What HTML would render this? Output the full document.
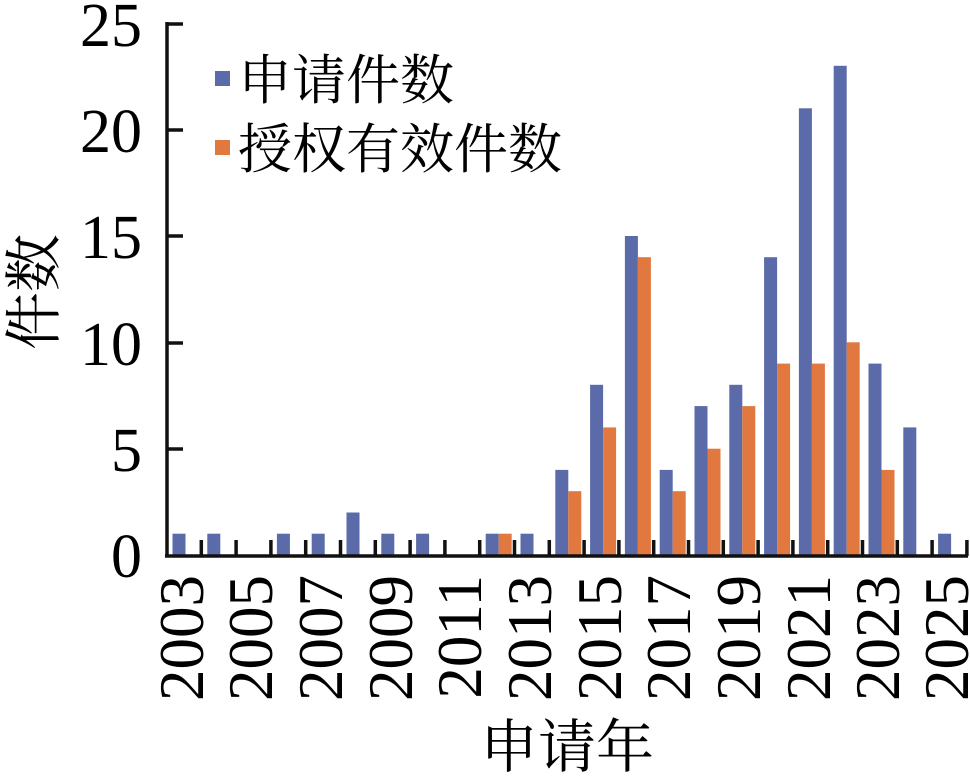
<!DOCTYPE html>
<html><head><meta charset="utf-8"><style>body{margin:0;background:#fff}svg{display:block}</style></head>
<body>
<svg width="970" height="777" xmlns="http://www.w3.org/2000/svg" font-family="'Liberation Serif','Noto Serif CJK SC',serif">
<g fill="#5b6aa8">
<rect x="172.5" y="533.7" width="13" height="21.3"/>
<rect x="207.3" y="533.7" width="13" height="21.3"/>
<rect x="276.9" y="533.7" width="13" height="21.3"/>
<rect x="311.7" y="533.7" width="13" height="21.3"/>
<rect x="346.5" y="512.5" width="13" height="42.5"/>
<rect x="381.3" y="533.7" width="13" height="21.3"/>
<rect x="416.1" y="533.7" width="13" height="21.3"/>
<rect x="485.7" y="533.7" width="13" height="21.3"/>
<rect x="520.5" y="533.7" width="13" height="21.3"/>
<rect x="555.3" y="469.9" width="13" height="85.1"/>
<rect x="590.1" y="384.8" width="13" height="170.2"/>
<rect x="624.9" y="236" width="13" height="319"/>
<rect x="659.7" y="469.9" width="13" height="85.1"/>
<rect x="694.5" y="406.1" width="13" height="148.9"/>
<rect x="729.3" y="384.8" width="13" height="170.2"/>
<rect x="764.1" y="257.2" width="13" height="297.8"/>
<rect x="798.9" y="108.3" width="13" height="446.7"/>
<rect x="833.7" y="65.8" width="13" height="489.2"/>
<rect x="868.5" y="363.6" width="13" height="191.4"/>
<rect x="903.3" y="427.4" width="13" height="127.6"/>
<rect x="938.1" y="533.7" width="13" height="21.3"/>
</g>
<g fill="#e07840">
<rect x="498.7" y="533.7" width="13" height="21.3"/>
<rect x="568.3" y="491.2" width="13" height="63.8"/>
<rect x="603.1" y="427.4" width="13" height="127.6"/>
<rect x="637.9" y="257.2" width="13" height="297.8"/>
<rect x="672.7" y="491.2" width="13" height="63.8"/>
<rect x="707.5" y="448.7" width="13" height="106.3"/>
<rect x="742.3" y="406.1" width="13" height="148.9"/>
<rect x="777.1" y="363.6" width="13" height="191.4"/>
<rect x="811.9" y="363.6" width="13" height="191.4"/>
<rect x="846.7" y="342.3" width="13" height="212.7"/>
<rect x="881.5" y="469.9" width="13" height="85.1"/>
</g>
<path d="M201.3 555V540M236.1 555V540M270.9 555V540M305.7 555V540M340.5 555V540M375.3 555V540M410.1 555V540M444.9 555V540M479.7 555V540M514.5 555V540M549.3 555V540M584.1 555V540M618.9 555V540M653.7 555V540M688.5 555V540M723.3 555V540M758.1 555V540M792.9 555V540M827.7 555V540M862.5 555V540M897.3 555V540M932.1 555V540M966.9 556V540M166 449H183M166 343H183M166 236H183M166 130H183M166 24H183" stroke="#111" stroke-width="3.5" fill="none"/>
<line x1="167" y1="22" x2="167" y2="557" stroke="#111" stroke-width="3.5"/>
<line x1="165" y1="556" x2="968" y2="556" stroke="#111" stroke-width="3.5"/>
<g font-size="62" text-anchor="end">
<text x="142" y="577">0</text>
<text x="142" y="471">5</text>
<text x="142" y="365">10</text>
<text x="142" y="258">15</text>
<text x="142" y="152">20</text>
<text x="142" y="46">25</text>
</g>
<g font-size="63" text-anchor="end">
<text transform="translate(203,575) rotate(-90)">2003</text>
<text transform="translate(272,575) rotate(-90)">2005</text>
<text transform="translate(342,575) rotate(-90)">2007</text>
<text transform="translate(412,575) rotate(-90)">2009</text>
<text transform="translate(481,575) rotate(-90)">2011</text>
<text transform="translate(551,575) rotate(-90)">2013</text>
<text transform="translate(621,575) rotate(-90)">2015</text>
<text transform="translate(690,575) rotate(-90)">2017</text>
<text transform="translate(760,575) rotate(-90)">2019</text>
<text transform="translate(830,575) rotate(-90)">2021</text>
<text transform="translate(899,575) rotate(-90)">2023</text>
<text transform="translate(968,575) rotate(-90)">2025</text>
</g>
<rect x="215" y="71" width="15" height="15" fill="#5b6aa8"/>
<text x="238" y="99" font-size="54">申请件数</text>
<rect x="215" y="140" width="15" height="15" fill="#e07840"/>
<text x="238" y="168" font-size="54">授权有效件数</text>
<text transform="translate(54,292) rotate(-90)" text-anchor="middle" font-size="58">件数</text>
<text x="567" y="767" text-anchor="middle" font-size="58">申请年</text>
</svg>
</body></html>
